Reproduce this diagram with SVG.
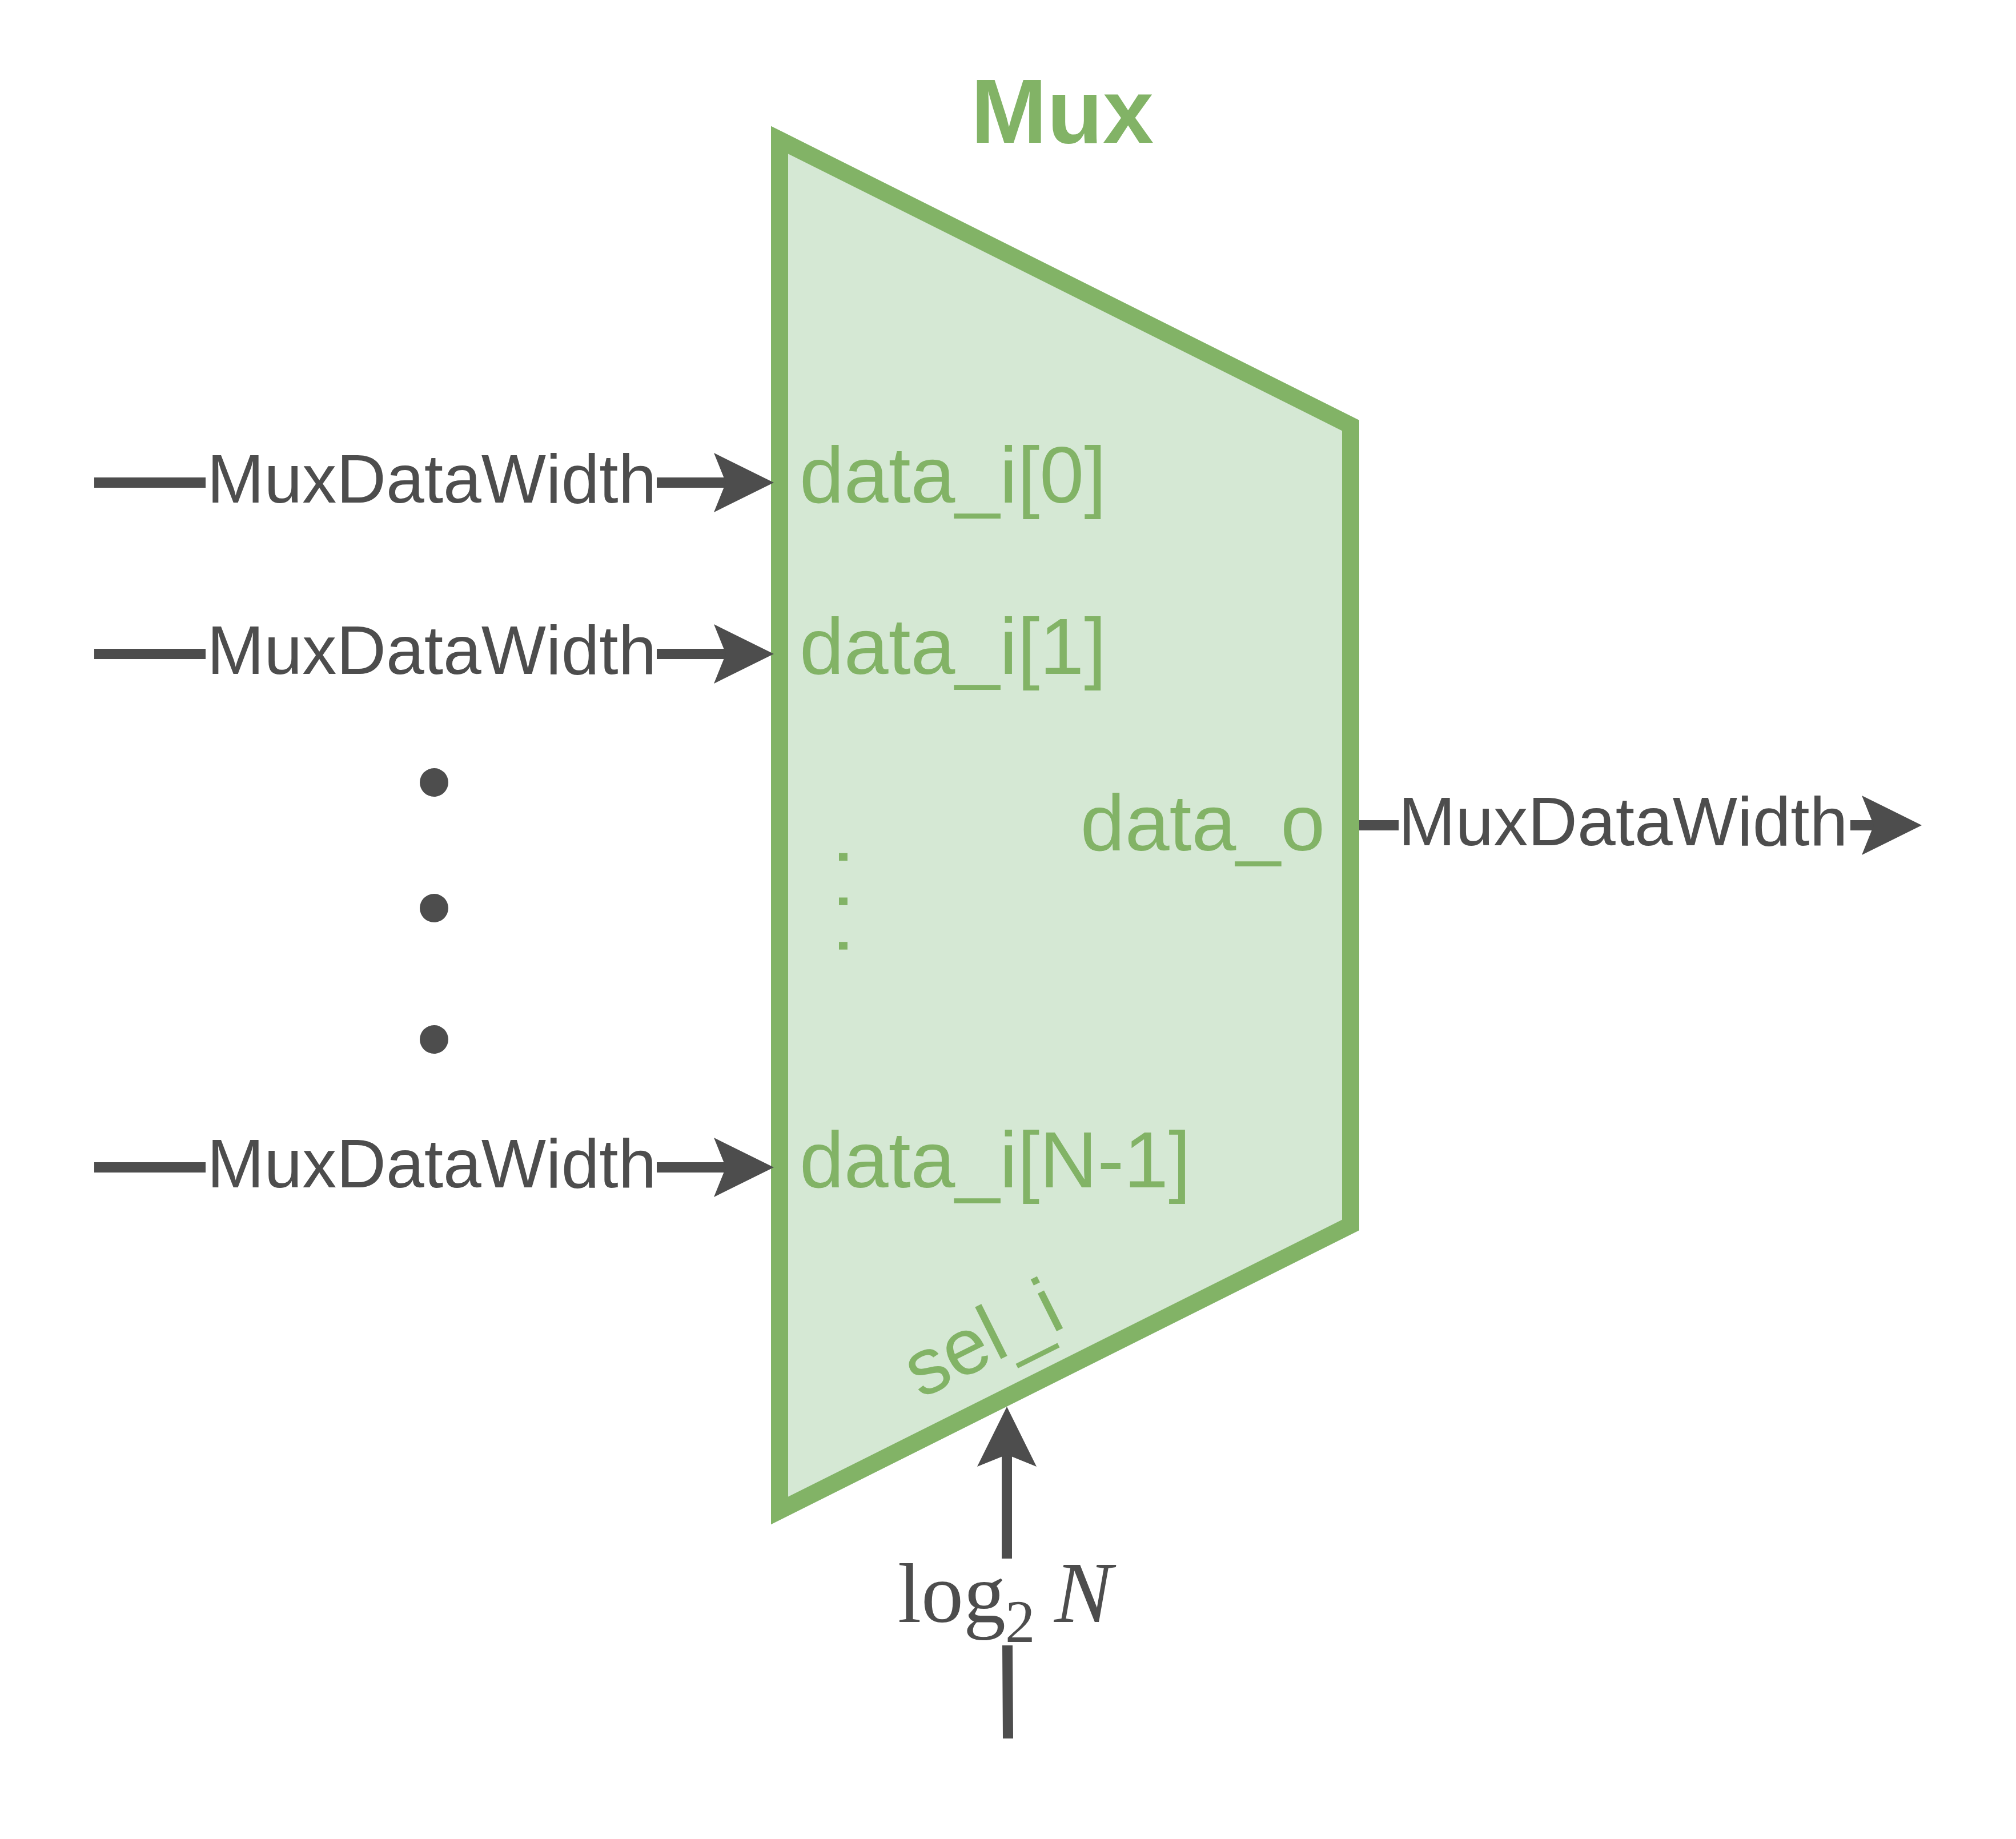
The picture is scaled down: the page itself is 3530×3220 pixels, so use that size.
<svg xmlns="http://www.w3.org/2000/svg" width="3530" height="3220" viewBox="0 0 3530 3220">
  <style>
    .wire { fill: none; stroke: #4D4D4D; stroke-width: 18; }
    .lbl { font-family: "Liberation Sans", Arial, sans-serif; font-size: 120px; fill: #4D4D4D; }
    .port { font-family: "Liberation Sans", Arial, sans-serif; font-size: 140px; fill: #82B366; }
    .math { font-family: "Liberation Serif", "Times New Roman", serif; fill: #4D4D4D; }
  </style>
  <defs>
    <marker id="arr" markerUnits="userSpaceOnUse" markerWidth="106" markerHeight="106" viewBox="0 0 106 106" refX="21" refY="52" orient="auto">
      <path d="M0,0 L105,52 L0,104 L21,52 Z" fill="#4D4D4D"/>
    </marker>
  </defs>
  <rect width="3530" height="3220" fill="#FFFFFF"/>

  <g id="mux">
    <polygon points="1365,245 2365,745 2365,2145 1365,2645" fill="#D5E8D4" stroke="#82B366" stroke-width="30"/>
    <text x="1860" y="250" text-anchor="middle" style="font-family: 'Liberation Sans', Arial, sans-serif; font-size: 160px; font-weight: bold; fill: #82B366;">Mux</text>
    <text class="port" x="1400" y="880">data_i[0]</text>
    <text class="port" x="1400" y="1180">data_i[1]</text>
    <text class="port" transform="translate(1469,1481) rotate(90)">. . .</text>
    <text class="port" x="1400" y="2079">data_i[N-1]</text>
    <text class="port" x="2320" y="1489" text-anchor="end">data_o</text>
    <text class="port" transform="translate(1612,2450) rotate(-26.565)">sel_i</text>
  </g>

  <g id="ellipsis">
    <circle cx="760" cy="1370" r="25" fill="#4D4D4D"/>
    <circle cx="760" cy="1590" r="25" fill="#4D4D4D"/>
    <circle cx="760" cy="1820" r="25" fill="#4D4D4D"/>
  </g>

  <g id="connectors">
    <path class="wire" d="M165,845 H360 M1150,845 H1271" marker-end="url(#arr)"/>
    <path class="wire" d="M165,1145 H360 M1150,1145 H1271" marker-end="url(#arr)"/>
    <path class="wire" d="M165,2044 H360 M1150,2044 H1271" marker-end="url(#arr)"/>
    <path class="wire" d="M2380,1445 H2449 M3240,1445 H3281" marker-end="url(#arr)"/>
    <path class="wire" d="M1765,3044 L1764,2881 M1763,2729 L1763,2547" marker-end="url(#arr)"/>
  </g>

  <g id="labels">
    <text class="math" x="1572" y="2840" font-size="148">log</text>
    <text class="math" x="1760" y="2875" font-size="105">2</text>
    <text class="math" x="1846" y="2840" font-size="152" font-style="italic">N</text>
    <text class="lbl" x="756" y="880" text-anchor="middle">MuxDataWidth</text>
    <text class="lbl" x="756" y="1180" text-anchor="middle">MuxDataWidth</text>
    <text class="lbl" x="756" y="2079" text-anchor="middle">MuxDataWidth</text>
    <text class="lbl" x="2842" y="1480" text-anchor="middle">MuxDataWidth</text>
  </g>
</svg>
